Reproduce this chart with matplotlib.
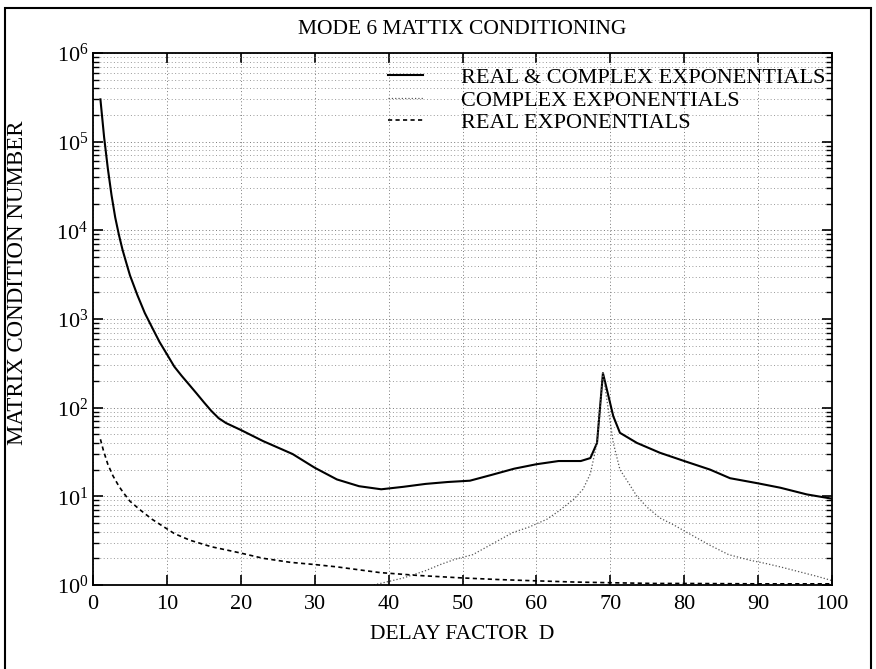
import numpy as np
import matplotlib
matplotlib.use("Agg")
import matplotlib.pyplot as plt
from matplotlib.patches import Rectangle
from matplotlib.ticker import LogLocator, LogFormatterSciNotation, NullFormatter

plt.rcParams['font.family'] = ['Liberation Serif', 'DejaVu Serif']
plt.rcParams['mathtext.fontset'] = 'custom'
plt.rcParams['mathtext.rm'] = 'Liberation Serif'
plt.rcParams['mathtext.it'] = 'Liberation Serif'

# curva real & complexa (linha cheia)
d_ambos = [1, 1.5, 2, 2.5, 3, 3.5, 4, 4.5, 5, 6, 7, 8, 9, 10, 11, 12, 13, 14, 15, 16,
           17, 18, 20, 23, 27, 30, 33, 36, 39, 42, 45, 48, 51, 54, 57, 60, 63, 66,
           67.3, 68.2, 69, 70.4, 71.3, 73.6, 76.7, 80, 83.5, 86.2, 90, 93, 96.6, 100]
cond_ambos = [3e5, 1.12e5, 5e4, 2.5e4, 1.4e4, 8.9e3, 6e3, 4.3e3, 3.1e3, 1.86e3, 1.17e3,
              800, 550, 400, 290, 228, 182, 145, 115, 92, 76, 67, 56, 42, 30, 21, 15.5,
              13, 12, 12.8, 13.8, 14.5, 15, 17.5, 20.5, 23, 25, 25,
              27, 40, 245, 80, 52, 40, 31, 25, 20, 16, 14, 12.5, 10.5, 9.4]

# exponenciais complexas (pontilhada)
d_complexo = [38, 42, 45, 47, 49, 51.4, 54, 56.8, 59, 61.4, 63, 65, 66.3, 67.3, 68.2,
              69, 70.4, 71.3, 72.5, 73.6, 75, 76.7, 78.5, 80.4, 83.5, 86, 88.9, 91, 93,
              95.7, 98, 100]
cond_complexo = [1.0, 1.2, 1.45, 1.7, 1.95, 2.2, 2.9, 3.9, 4.5, 5.5, 6.8, 9.2, 12, 18,
                 40, 245, 40, 20, 14, 10, 7.5, 5.7, 4.8, 3.9, 2.8, 2.2, 1.9, 1.75, 1.6,
                 1.4, 1.25, 1.12]

# exponenciais reais (tracejada)
d_real = [1, 1.4, 2, 2.7, 3.5, 4.1, 5, 6.4, 8, 9.1, 11, 13.1, 16, 19.9, 23, 26.7, 30,
          33, 38.8, 44, 50, 55, 59, 65, 70, 76, 80, 90, 100]
cond_real = [44, 33, 23, 17, 13, 11, 8.8, 7, 5.5, 4.8, 3.8, 3.2, 2.7, 2.3, 2.0, 1.8,
             1.7, 1.6, 1.38, 1.28, 1.2, 1.15, 1.12, 1.08, 1.06, 1.04, 1.04, 1.03, 1.03]

fig = plt.figure(figsize=(8.76, 6.69), dpi=100)
ax = fig.add_axes([0.1062, 0.1256, 0.8436, 0.7952])

# moldura externa
fig.patches.append(Rectangle((0.006, -0.01), 0.988, 0.998, transform=fig.transFigure,
                             fill=False, lw=1.5, ec='black'))

ax.plot(d_ambos, cond_ambos, '-', color='black', lw=1.5, label='REAL & COMPLEX EXPONENTIALS')
ax.plot(d_complexo, cond_complexo, ':', color='#555555', lw=0.9, label='COMPLEX EXPONENTIALS')
ax.plot(d_real, cond_real, '--', color='black', lw=1.2, dashes=(2.5, 2), label='REAL EXPONENTIALS')

ax.set_yscale('log')
ax.set_xlim(0, 100)
ax.set_ylim(1, 1e6)
ax.set_xticks(np.arange(0, 101, 10))
ax.set_yticks([10.0 ** k for k in range(7)])
ax.yaxis.set_minor_locator(LogLocator(base=10, subs=np.arange(2, 10), numticks=100))
ax.yaxis.set_major_formatter(LogFormatterSciNotation())
ax.yaxis.set_minor_formatter(NullFormatter())

ax.tick_params(which='both', direction='in', top=True, right=True, labelsize=16)
ax.tick_params(which='major', length=7, width=1.2)
ax.tick_params(which='minor', length=4, width=1.0)
ax.tick_params(axis='x', pad=7)

ax.grid(True, which='major', ls=(0, (1, 2.5)), lw=0.7, color='#777777')
ax.grid(True, which='minor', axis='y', ls=(0, (1, 2.5)), lw=0.7, color='#999999')
for s in ax.spines.values():
    s.set_linewidth(1.3)

ax.set_title('MODE 6 MATTIX CONDITIONING', fontsize=15.5, pad=14)
ax.set_xlabel('DELAY FACTOR  D', fontsize=15.5, labelpad=8)
ax.set_ylabel('MATRIX CONDITION NUMBER', fontsize=16.5)
ax.yaxis.set_label_coords(-0.088, 0.568)

leg = ax.legend(loc='upper right', bbox_to_anchor=(1.0, 0.985), frameon=False,
                fontsize=16, handlelength=1.6, handletextpad=1.7, labelspacing=0.08,
                borderaxespad=0.0, borderpad=0.3)

fig.savefig('out.png', dpi=100)
